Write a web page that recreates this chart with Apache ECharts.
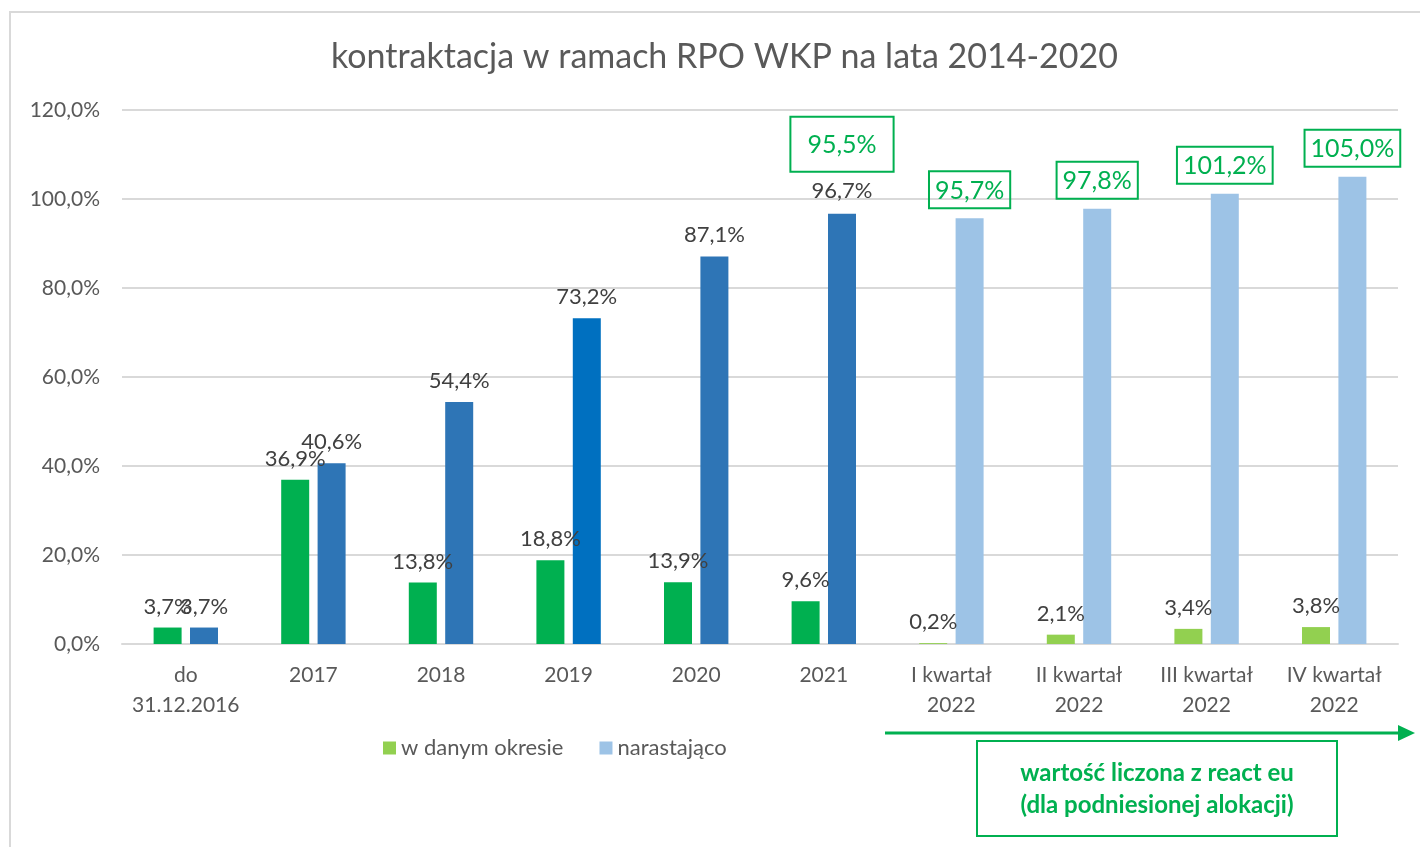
<!DOCTYPE html>
<html>
<head>
<meta charset="utf-8">
<script src="https://cdn.jsdelivr.net/npm/echarts@6/dist/echarts.min.js"></script>
<style>
  html, body { margin: 0; padding: 0; background: #fff; }
  #chart { width: 1420px; height: 847px; }
</style>
</head>
<body>
<div id="chart"></div>
<script>
// categories (x axis)
const categories = [
  "do\n31.12.2016", "2017", "2018", "2019", "2020", "2021",
  "I kwartał\n2022", "II kwartał\n2022", "III kwartał\n2022", "IV kwartał\n2022"
]
// values in %
const inPeriod = [3.7, 36.9, 13.8, 18.8, 13.9, 9.6, 0.2, 2.1, 3.4, 3.8]
const cumulative = [3.7, 40.6, 54.4, 73.2, 87.1, 96.7, 95.7, 97.8, 101.2, 105.0]
// extra value shown in a green box over 2021 (react eu)
const reactEu2021 = 95.5
const quarterStart = 6 // first quarter index (lighter colors, boxed labels)

const fmt = (v) => v.toFixed(1).replace(".", ",") + "%"

const GREEN_DARK = "#00B050"
const GREEN_LIGHT = "#92D050"
const BLUE = "#2E75B6"
const BLUE_2019 = "#0070C0"
const BLUE_LIGHT = "#9DC3E6"
const TEXT = "#595959"
const FONT = "Lato, 'Open Sans', sans-serif"

const chart = echarts.init(document.getElementById("chart"))

const inPeriodData = inPeriod.map((v, i) => ({
  value: v,
  itemStyle: { color: i >= quarterStart ? GREEN_LIGHT : GREEN_DARK },
}))

const cumulativeData = cumulative.map((v, i) => ({
  value: v,
  itemStyle: { color: i >= quarterStart ? BLUE_LIGHT : (categories[i] === "2019" ? BLUE_2019 : BLUE) },
}))

const labelBase = { show: true, position: "top", distance: 10, color: "#404040", fontSize: 22, fontFamily: FONT }

const option = {
  animation: false,
  title: {
    text: "kontraktacja w ramach RPO WKP na lata 2014-2020",
    left: 326,
    top: 35,
    textStyle: { color: TEXT, fontSize: 34, fontWeight: "normal", fontFamily: FONT },
  },
  legend: {
    left: 378,
    top: 732,
    itemWidth: 13,
    itemHeight: 13,
    itemGap: 36,
    icon: "rect",
    textStyle: { color: TEXT, fontSize: 22, fontFamily: FONT },
    data: [
      { name: "w danym okresie", itemStyle: { color: GREEN_LIGHT } },
      { name: "narastająco", itemStyle: { color: BLUE_LIGHT } },
    ],
  },
  grid: { left: 122, right: 22, top: 110, bottom: 203 },
  xAxis: {
    type: "category",
    data: categories,
    axisLine: { lineStyle: { color: "#d9d9d9", width: 2 } },
    axisTick: { show: false },
    axisLabel: { color: TEXT, fontSize: 21, fontFamily: FONT, lineHeight: 30, margin: 16, interval: 0 },
  },
  yAxis: {
    type: "value",
    min: 0,
    max: 120,
    interval: 20,
    axisLine: { show: false },
    axisTick: { show: false },
    splitLine: { lineStyle: { color: "#d9d9d9", width: 2 } },
    axisLabel: {
      color: TEXT, fontSize: 21, fontFamily: FONT, margin: 22,
      formatter: (v) => fmt(v),
    },
  },
  series: [
    {
      name: "w danym okresie",
      type: "bar",
      data: inPeriodData,
      barWidth: 28,
      barGap: "30%",
      itemStyle: { color: GREEN_LIGHT },
      label: { ...labelBase, formatter: (p) => fmt(p.value) },
    },
    {
      name: "narastająco",
      type: "bar",
      data: cumulativeData,
      barWidth: 28,
      itemStyle: { color: BLUE_LIGHT },
      label: {
        ...labelBase,
        formatter: (p) => {
          if (p.dataIndex >= quarterStart) return "{box|" + fmt(p.value) + "}"
          if (categories[p.dataIndex] === "2021") return "{big|" + fmt(reactEu2021) + "}\n{gap|}\n{val|" + fmt(p.value) + "}"
          return fmt(p.value)
        },
        rich: {
          box: {
            color: GREEN_DARK, fontSize: 25, fontFamily: FONT,
            borderColor: GREEN_DARK, borderWidth: 2, padding: [7, 6, 5, 6],
          },
          big: {
            color: GREEN_DARK, fontSize: 25, fontFamily: FONT,
            borderColor: GREEN_DARK, borderWidth: 2, padding: [16, 17, 14, 17],
          },
          gap: { height: 6 },
          val: { color: "#404040", fontSize: 22, fontFamily: FONT, lineHeight: 26 },
        },
      },
    },
  ],
  graphic: [
    // chart frame
    {
      type: "rect",
      shape: { x: 10, y: 12, width: 1430, height: 860 },
      style: { fill: "none", stroke: "#d9d9d9", lineWidth: 2 },
      silent: true,
    },
    // arrow
    {
      type: "line",
      shape: { x1: 885, y1: 733, x2: 1400, y2: 733 },
      style: { stroke: GREEN_DARK, lineWidth: 3 },
    },
    {
      type: "polygon",
      shape: { points: [[1398, 725], [1415, 733], [1398, 741]] },
      style: { fill: GREEN_DARK },
    },
    // note box
    {
      type: "rect",
      shape: { x: 977, y: 741, width: 360, height: 95 },
      style: { fill: "#fff", stroke: GREEN_DARK, lineWidth: 2 },
    },
    {
      type: "text",
      x: 1157,
      y: 789,
      style: {
        text: "wartość liczona z react eu\n(dla podniesionej alokacji)",
        fill: GREEN_DARK,
        font: "bold 24px " + FONT,
        lineHeight: 32,
        align: "center",
        verticalAlign: "middle",
      },
    },
  ],
}

chart.setOption(option)
</script>
</body>
</html>
